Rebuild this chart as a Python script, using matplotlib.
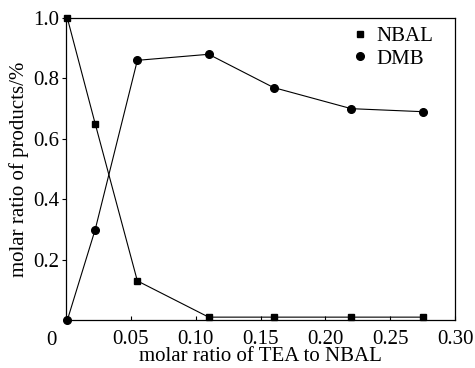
import matplotlib
matplotlib.use("Agg")
import matplotlib.pyplot as plt
from matplotlib.lines import Line2D

plt.rcParams['font.family'] = ['Liberation Serif', 'DejaVu Serif']

x = [0.001, 0.0225, 0.055, 0.11, 0.16, 0.22, 0.275]
nbal = [1.0, 0.65, 0.13, 0.01, 0.01, 0.01, 0.01]
dmb = [0.0, 0.30, 0.86, 0.88, 0.77, 0.70, 0.69]

xticks = [0.05, 0.10, 0.15, 0.20, 0.25, 0.30]
xtick_labels = ['0.05', '0.10', '0.15', '0.20', '0.25', '0.30']
yticks = [0.2, 0.4, 0.6, 0.8, 1.0]
ytick_labels = ['0.2', '0.4', '0.6', '0.8', '1.0']

fig = plt.figure(figsize=(4.75, 3.68), dpi=100)
ax = fig.add_axes([0.139, 0.13, 0.819, 0.821])

ax.plot(x, nbal, color='black', lw=0.8, marker='s', ms=5, clip_on=False)
ax.plot(x, dmb, color='black', lw=0.8, marker='o', ms=5.5, clip_on=False)

ax.set_xlim(0, 0.30)
ax.set_ylim(0, 1.0)
ax.set_xticks(xticks)
ax.set_xticklabels(xtick_labels)
ax.set_yticks(yticks)
ax.set_yticklabels(ytick_labels)
ax.tick_params(axis='x', direction='in', length=3, width=0.8, labelsize=15, pad=7)
ax.tick_params(axis='y', direction='out', length=3, width=0.8, labelsize=15, pad=2)
ax.text(-0.011, -0.035, '0', fontsize=15, ha='center', va='top')

for s in ax.spines.values():
    s.set_linewidth(0.9)

ax.set_xlabel('molar ratio of TEA to NBAL', fontsize=15, labelpad=-1)
ax.set_ylabel('molar ratio of products/%', fontsize=15, labelpad=3)

handles = [Line2D([], [], color='black', ls='none', marker='s', ms=4.5),
           Line2D([], [], color='black', ls='none', marker='o', ms=5.5)]
ax.legend(handles, ['NBAL', 'DMB'], loc='upper right', frameon=False, fontsize=15,
          handlelength=0.8, handletextpad=0.4, borderaxespad=0.0, labelspacing=0.15,
          bbox_to_anchor=(0.965, 1.0))

fig.savefig('out.png', dpi=100)
